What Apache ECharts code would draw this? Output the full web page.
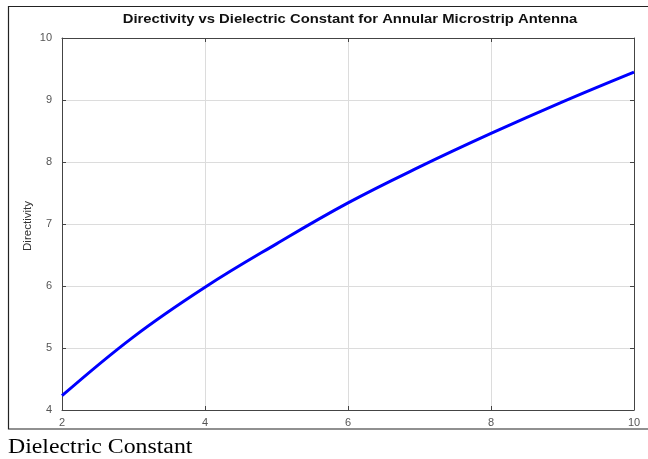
<!DOCTYPE html>
<html>
<head>
<meta charset="utf-8">
<script src="https://cdn.jsdelivr.net/npm/echarts@6/dist/echarts.min.js"></script>
<style>html,body{margin:0;padding:0;background:#fff}#c{width:648px;height:459px}</style>
</head>
<body>
<div id="c"></div>
<script>
const titleText = 'Directivity vs Dielectric Constant for Annular Microstrip Antenna';
const xLabel = 'Dielectric Constant';
const yLabel = 'Directivity';
const dielectric = [2, 3, 4, 5, 6, 7, 8, 9, 10];
const directivity = [4.23, 5.18, 5.98, 6.68, 7.34, 7.92, 8.46, 8.97, 9.45];
const xTicks = [2, 4, 6, 8, 10];
const yTicks = [4, 5, 6, 7, 8, 9, 10];

const chart = echarts.init(document.getElementById('c'), null, {renderer: 'canvas'});
const axisLine = {show: true, lineStyle: {color: '#444', width: 1}};
const tick = {show: true, inside: true, length: 4, lineStyle: {color: '#444'}};
const grid = {show: true, lineStyle: {color: '#dcdcdc', width: 1}};
const lbl = {color: '#555', fontSize: 11, fontFamily: 'Liberation Sans, Arial'};
chart.setOption({
  animation: false,
  backgroundColor: '#fff',
  grid: {left: 62, right: 14, top: 38, bottom: 49, containLabel: false},
  xAxis: [{
    type: 'value', min: xTicks[0], max: xTicks[xTicks.length - 1], interval: 2,
    axisLine: axisLine, axisTick: tick, splitLine: grid,
    axisLabel: Object.assign({margin: 7}, lbl)
  }, {
    type: 'value', position: 'top', min: xTicks[0], max: xTicks[xTicks.length - 1], interval: 2,
    axisLine: axisLine, axisTick: tick, splitLine: {show: false}, axisLabel: {show: false}
  }],
  yAxis: [{
    type: 'value', min: yTicks[0], max: yTicks[yTicks.length - 1], interval: 1,
    axisLine: axisLine, axisTick: tick, splitLine: grid,
    axisLabel: Object.assign({margin: 10}, lbl)
  }, {
    type: 'value', position: 'right', min: yTicks[0], max: yTicks[yTicks.length - 1], interval: 1,
    axisLine: axisLine, axisTick: tick, splitLine: {show: false}, axisLabel: {show: false}
  }],
  graphic: [
    {type: 'rect', shape: {x: 8.5, y: 6.5, width: 660, height: 422.5},
     style: {fill: 'none', stroke: '#222', lineWidth: 1.2}, silent: true, z: -1},
    {type: 'text', x: 350, y: 19, scaleX: 1.14,
     style: {text: titleText, fontSize: 13, fontWeight: 'bold', fill: '#111',
             fontFamily: 'Liberation Sans, Arial', align: 'center', verticalAlign: 'middle'}},
    {type: 'text', x: 28, y: 226, rotation: Math.PI / 2, scaleX: 1.05,
     style: {text: yLabel, fontSize: 11, fill: '#333',
             fontFamily: 'Liberation Sans, Arial', align: 'center', verticalAlign: 'middle'}},
    {type: 'text', x: 8, y: 448, scaleX: 1.19,
     style: {text: xLabel, fontSize: 20, fill: '#000', fontFamily: 'Liberation Serif, Times New Roman, serif',
             align: 'left', verticalAlign: 'middle'}}
  ],
  series: [{
    type: 'line', data: dielectric.map((x, i) => [x, directivity[i]]),
    smooth: 0.4, symbol: 'none', lineStyle: {color: '#0000ff', width: 3}
  }]
});
</script>
</body>
</html>
